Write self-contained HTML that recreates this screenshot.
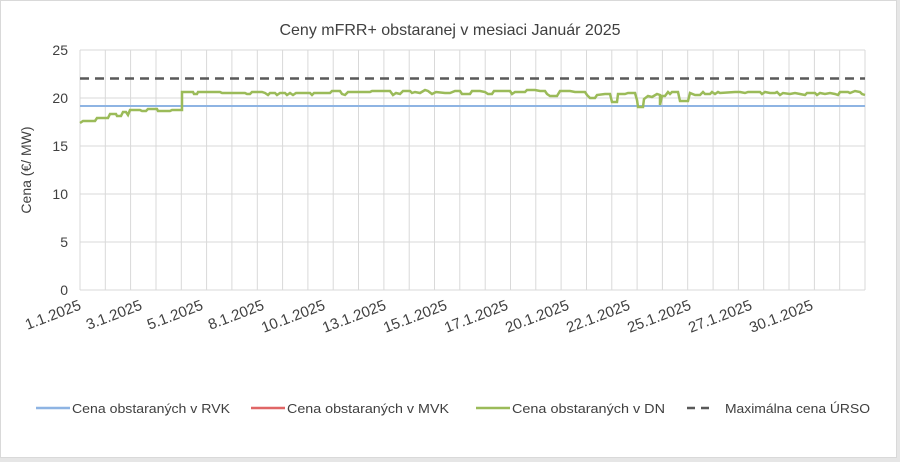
<!DOCTYPE html>
<html><head><meta charset="utf-8"><style>
html,body{margin:0;padding:0;background:#fff;}
svg{display:block;font-family:"Liberation Sans",sans-serif;}
</style></head><body>
<svg width="900" height="462" viewBox="0 0 900 462" xmlns="http://www.w3.org/2000/svg">
<rect x="0" y="0" width="900" height="462" fill="#e6e6e6"/>
<rect x="0.5" y="0.5" width="896" height="457" fill="#fff" stroke="#d9d9d9"/>
<text x="450" y="35" text-anchor="middle" font-size="16" fill="#404040">Ceny mFRR+ obstaranej v mesiaci Január 2025</text>
<g stroke="#d9d9d9" stroke-width="1">
<line x1="80" y1="50" x2="865" y2="50"/>
<line x1="80" y1="98" x2="865" y2="98"/>
<line x1="80" y1="146" x2="865" y2="146"/>
<line x1="80" y1="194" x2="865" y2="194"/>
<line x1="80" y1="242" x2="865" y2="242"/>
<line x1="80" y1="290" x2="865" y2="290"/>
</g>
<path stroke="#d9d9d9" stroke-width="1" fill="none" d="M80,50V290 M105.3,50V290 M130.6,50V290 M156,50V290 M181.3,50V290 M206.6,50V290 M231.9,50V290 M257.3,50V290 M282.6,50V290 M307.9,50V290 M333.2,50V290 M358.5,50V290 M383.9,50V290 M409.2,50V290 M434.5,50V290 M459.8,50V290 M485.2,50V290 M510.5,50V290 M535.8,50V290 M561.1,50V290 M586.5,50V290 M611.8,50V290 M637.1,50V290 M662.4,50V290 M687.7,50V290 M713.1,50V290 M738.4,50V290 M763.7,50V290 M789,50V290 M814.4,50V290 M839.7,50V290 M865,50V290"/>
<g font-size="14" fill="#404040" text-anchor="end">
<text x="68" y="55">25</text><text x="68" y="103">20</text><text x="68" y="151">15</text>
<text x="68" y="199">10</text><text x="68" y="247">5</text><text x="68" y="295">0</text>
</g>
<text transform="translate(31,170) rotate(-90)" text-anchor="middle" font-size="14" fill="#404040">Cena (€/ MW)</text>
<g font-size="15" fill="#404040" text-anchor="end">
<text transform="translate(82,309) rotate(-21)">1.1.2025</text>
<text transform="translate(143,309) rotate(-21)">3.1.2025</text>
<text transform="translate(204,309) rotate(-21)">5.1.2025</text>
<text transform="translate(265,309) rotate(-21)">8.1.2025</text>
<text transform="translate(326,309) rotate(-21)">10.1.2025</text>
<text transform="translate(387,309) rotate(-21)">13.1.2025</text>
<text transform="translate(448,309) rotate(-21)">15.1.2025</text>
<text transform="translate(509,309) rotate(-21)">17.1.2025</text>
<text transform="translate(570,309) rotate(-21)">20.1.2025</text>
<text transform="translate(631,309) rotate(-21)">22.1.2025</text>
<text transform="translate(692,309) rotate(-21)">25.1.2025</text>
<text transform="translate(753,309) rotate(-21)">27.1.2025</text>
<text transform="translate(814,309) rotate(-21)">30.1.2025</text>
</g>
<line x1="80" y1="106" x2="865" y2="106" stroke="#8eb4e3" stroke-width="2"/>
<line x1="80" y1="78.5" x2="865" y2="78.5" stroke="#595959" stroke-width="2.5" stroke-dasharray="9,6"/>
<polyline fill="none" stroke="#9bbb59" stroke-width="2.5" points="80,123 83,121 95,121 97,118 108,118 110,114 116,114 117,116 121,116 123,112 126,112 128,115 130,110 140,110 142,111 146,111 148,109 157,109 158,111 170,111 172,110 182,110 182,92 193,92 194,94 197,94 198,92 220,92 222,93 245,93 247,94 250,94 252,92 262,92 265,93 268,95 270,93 275,93 277,95 280,93 285,93 287,95 290,93 293,95 296,93 310,93 312,95 314,93 330,93 332,91 340,91 342,94 345,95 348,92 370,92 372,91 390,91 393,95 396,93 400,94 403,91 410,91 412,93 415,92 420,93 425,90 428,91 432,94 436,92 445,93 450,93 455,91 460,91 462,94 470,94 472,91 480,91 485,92 488,94 492,94 494,91 510,91 512,94 515,92 525,92 527,90 535,90 540,91 545,91 547,94 550,96 557,96 560,91 570,91 575,92 585,92 587,95 590,98 595,98 597,95 605,94 610,94 612,102 617,102 618,94 625,94 628,93 635,93 637,100 638,107 643,107 644,99 648,96 652,97 657,94 660,95 660,105 662,96 665,96 668,92 670,94 672,92 678,92 680,101 688,101 690,93 695,95 700,95 703,92 705,94 710,94 712,92 715,94 718,92 720,93 735,92 740,92 745,93 748,92 760,92 762,94 765,92 770,93 775,93 777,92 780,95 783,93 790,94 795,93 800,94 805,95 807,93 815,93 817,95 820,93 825,94 830,93 835,94 838,95 840,92 848,92 850,93 855,91 860,92 862,94 865,95"/>
<g font-size="13" fill="#404040">
<line x1="36" y1="408" x2="70" y2="408" stroke="#8eb4e3" stroke-width="2.5"/>
<text x="72" y="413" textLength="158" lengthAdjust="spacingAndGlyphs">Cena obstaraných v RVK</text>
<line x1="251" y1="408" x2="285" y2="408" stroke="#e06666" stroke-width="2.5"/>
<text x="287" y="413" textLength="162" lengthAdjust="spacingAndGlyphs">Cena obstaraných v MVK</text>
<line x1="476" y1="408" x2="510" y2="408" stroke="#9bbb59" stroke-width="2.5"/>
<text x="512" y="413" textLength="153" lengthAdjust="spacingAndGlyphs">Cena obstaraných v DN</text>
<line x1="687" y1="408" x2="710" y2="408" stroke="#595959" stroke-width="2.5" stroke-dasharray="8,6"/>
<text x="725" y="413" textLength="145" lengthAdjust="spacingAndGlyphs">Maximálna cena ÚRSO</text>
</g>
</svg>
</body></html>
